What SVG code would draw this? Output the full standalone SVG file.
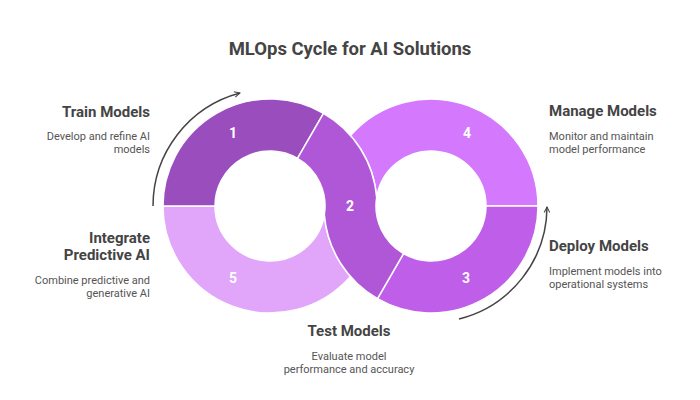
<svg xmlns="http://www.w3.org/2000/svg" width="700" height="400" viewBox="0 0 700 400">
<style>
.seg{stroke:#fff;stroke-width:1.5;stroke-linejoin:round}
.num{font-family:Roboto,"Liberation Sans",sans-serif;font-weight:700;font-size:14px;fill:#fff;text-anchor:middle}
.h{font-family:Roboto,"Liberation Sans",sans-serif;font-weight:700;font-size:15px;fill:#444}
.b{font-family:Roboto,"Liberation Sans",sans-serif;font-size:11px;fill:#555}
.title{font-family:Roboto,"Liberation Sans",sans-serif;font-weight:700;font-size:18.5px;fill:#444;text-anchor:middle}
.arr{fill:none;stroke:#444;stroke-width:1.5;marker-end:url(#ah)}
</style>
<defs>
<marker id="ah" viewBox="0 0 10 10" refX="9" refY="5" markerWidth="7" markerHeight="7" markerUnits="userSpaceOnUse" orient="auto">
<path d="M1,1 L9,5 L1,9" fill="none" stroke="#444" stroke-width="1.5"/>
</marker>
</defs>
<rect width="700" height="400" fill="#fff"/>
<text class="title" x="350" y="55">MLOps Cycle for AI Solutions</text>

<g id="connectors">
<path class="arr" d="M153,206 A117,117 0 0 1 240,93"/>
<path class="arr" d="M459,319 A116,116 0 0 0 547,207"/>
</g>

<g id="seg5">
<path class="seg" fill="#e1a5fa" d="M163,206 A107,107 0 0 0 350.5,276.5 A107,107 0 0 1 324.34,214.5 A55,55 0 0 1 215,206 Z"/>
<text class="num" x="233" y="283">5</text>
</g>
<g id="seg1">
<path class="seg" fill="#9a4dbd" d="M163,206 A107,107 0 0 1 323.5,113.34 L297.5,158.37 A55,55 0 0 0 215,206 Z"/>
<text class="num" x="233" y="138">1</text>
</g>
<g id="seg4">
<path class="seg" fill="#d478fd" d="M350.5,135.5 A107,107 0 0 1 538,206 L486,206 A55,55 0 0 0 376.66,197.5 A107,107 0 0 0 350.5,135.5 Z"/>
<text class="num" x="467" y="138">4</text>
</g>
<g id="seg3">
<path class="seg" fill="#bf5ee9" d="M538,206 A107,107 0 0 1 377.5,298.66 L403.5,253.63 A55,55 0 0 0 486,206 Z"/>
<text class="num" x="466" y="283">3</text>
</g>
<g id="seg2">
<path class="seg" fill="#b057d8" d="M323.5,113.34 A107,107 0 0 1 376.66,197.5 A55,55 0 0 0 403.5,253.63 L377.5,298.66 A107,107 0 0 1 324.34,214.5 A55,55 0 0 0 297.5,158.37 Z"/>
<text class="num" x="350" y="211">2</text>
</g>

<g id="train">
<text class="h" x="150" y="117" text-anchor="end">Train Models</text>
<text class="b" x="150" y="140" text-anchor="end">Develop and refine AI</text>
<text class="b" x="150" y="153" text-anchor="end">models</text>
</g>
<g id="integrate">
<text class="h" x="150" y="243" text-anchor="end">Integrate</text>
<text class="h" x="150" y="260" text-anchor="end">Predictive AI</text>
<text class="b" x="150" y="284" text-anchor="end">Combine predictive and</text>
<text class="b" x="150" y="297" text-anchor="end">generative AI</text>
</g>
<g id="manage">
<text class="h" x="549" y="116">Manage Models</text>
<text class="b" x="549" y="140">Monitor and maintain</text>
<text class="b" x="549" y="153">model performance</text>
</g>
<g id="deploy">
<text class="h" x="549" y="251">Deploy Models</text>
<text class="b" x="549" y="275">Implement models into</text>
<text class="b" x="549" y="288">operational systems</text>
</g>
<g id="test">
<text class="h" x="349" y="336" text-anchor="middle">Test Models</text>
<text class="b" x="349" y="360" text-anchor="middle">Evaluate model</text>
<text class="b" x="349" y="373" text-anchor="middle">performance and accuracy</text>
</g>
</svg>
